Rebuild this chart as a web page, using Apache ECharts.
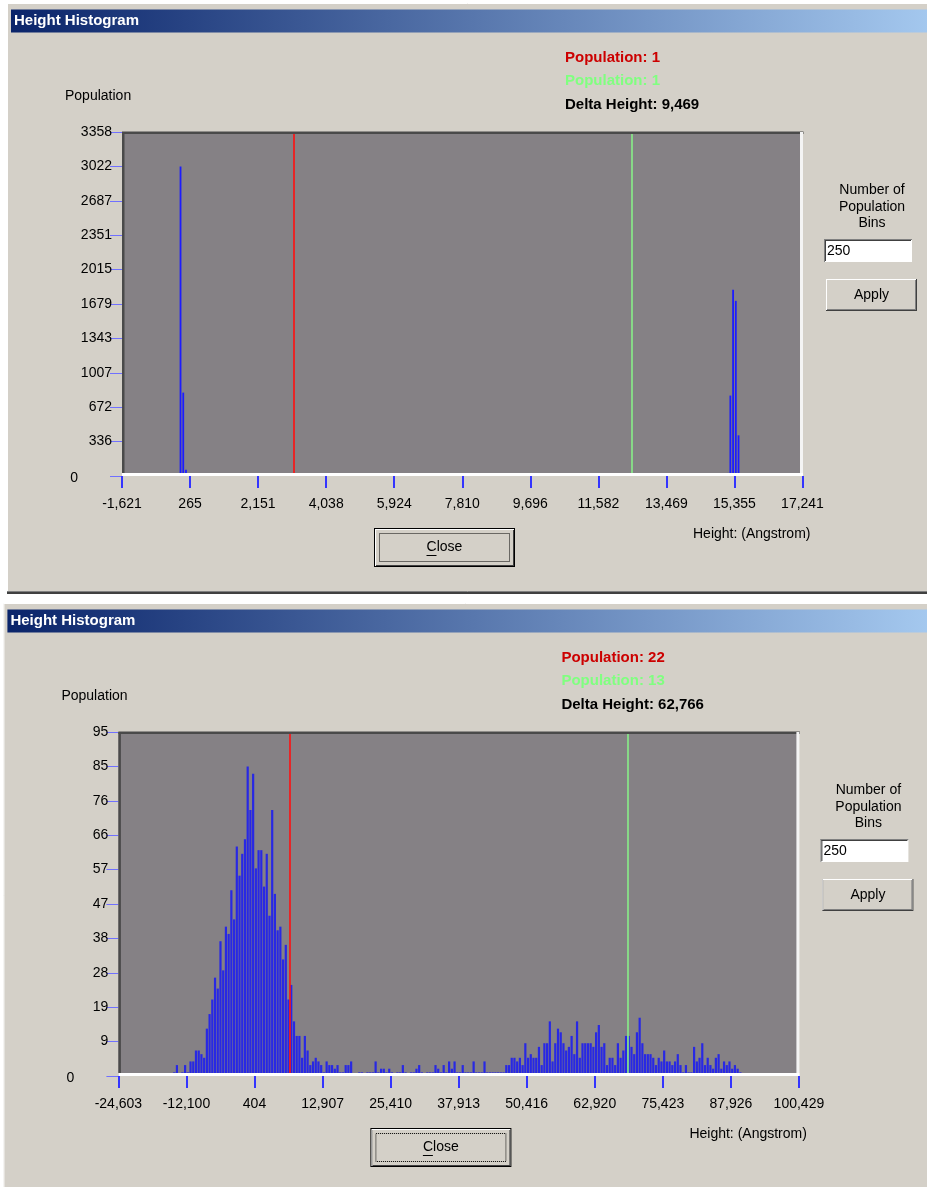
<!DOCTYPE html>
<html>
<head>
<meta charset="utf-8">
<script src="https://cdn.jsdelivr.net/npm/echarts@6/dist/echarts.min.js"></script>
<style>
html,body{margin:0;padding:0;background:#ffffff;}
#chart{width:927px;height:1187px;}
</style>
</head>
<body>
<div id="chart"></div>
<script>
// ---------------- data ----------------
const binCount = 250;

const topXTickLabels = ['-1,621','265','2,151','4,038','5,924','7,810','9,696','11,582','13,469','15,355','17,241'];
const topYTickLabels = ['0','336','672','1007','1343','1679','2015','2351','2687','3022','3358'];
const topYMax = 3358;
const topBins   = [21, 22, 23, 222, 223, 224, 225, 226];
const topCounts = [3022, 814, 60, 30, 785, 1819, 1710, 397];
const topRedMarker = 3146;
const topGreenMarker = 12515;
const topReadout = ['Population: 1', 'Population: 1', 'Delta Height: 9,469'];

const bottomXTickLabels = ['-24,603','-12,100','404','12,907','25,410','37,913','50,416','62,920','75,423','87,926','100,429'];
const bottomYTickLabels = ['0','9','19','28','38','47','57','66','76','85','95'];
const bottomYMax = 94.44;
const bottomFirstBin = 20;
const bottomCounts = [
  1,3,0,1,3,1,4,4,7,7, 6,5,13,17,21,27,24,37,29,41,
  39,51,43,63,55,61,65,85,73,83, 57,62,62,52,61,44,73,50,40,41,
  32,36,21,25,15,11,11,5,11,7, 3,4,5,4,3,1,4,3,3,2,
  3,1,1,3,3,4,
  0,0,1,1,0,1,1,1,4,1, 2,2,1,2,1,0,1,1,3,1,
  0,1,1,2,3,1,0,1,1,1, 3,2,1,3,1,4,2,4,1,1,
  3,1,1,1,4,1,1,1,
  4,1,1,1,1,1,1,1,3,3, 5,5,4,5,3,9,5,6,5,5,
  8,3,9,9,15,4,9,13,12,9, 7,8,11,6,15,5,9,9,9,9,
  8,12,14,8,9,3,5,5,3,9, 5,7,11,11,8,6,12,16,9,6,
  6,6,5,3,5,4,7,4,4,3, 4,6,3,1,3,1,1,8,4,5,
  9,3,5,3,2,5,6,2,4,3, 4,2,3,2,1
];
const bottomRedMarker = 6875;
const bottomGreenMarker = 68986;
const bottomReadout = ['Population: 22', 'Population: 13', 'Delta Height: 62,766'];

const yAxisTitle = 'Population';
const xAxisTitle = 'Height: (Angstrom)';
const binsLabel = ['Number of', 'Population', 'Bins'];
const binsValue = '250';
const windowTitle = 'Height Histogram';

// ---------------- helpers ----------------
const FONT = '"Liberation Sans", Arial, sans-serif';
const num = s => parseFloat(s.replace(/,/g, ''));

function binCenters(labels, bins) {
  const lo = num(labels[0]), hi = num(labels[labels.length - 1]);
  const w = (hi - lo) / binCount;
  return bins.map(b => lo + (b + 0.5) * w);
}

const topX = binCenters(topXTickLabels, topBins);
const topData = topX.map((x, i) => [x, topCounts[i]]);
const bottomBins = bottomCounts.map((c, i) => bottomFirstBin + i);
const bottomX = binCenters(bottomXTickLabels, bottomBins);
const bottomData = bottomX.map((x, i) => [x, bottomCounts[i]]).filter(d => d[1] > 0);

const PLOT_W = 680.5, PLOT_H = 344;
const panels = [
  {dx: 0, dy: 0, xl: topXTickLabels, yl: topYTickLabels, ymax: topYMax, data: topData,
   red: topRedMarker, green: topGreenMarker, readout: topReadout, barW: 1.8, barColor: '#1c1cff', frameH: 590},
  {dx: -3.6, dy: 600, xl: bottomXTickLabels, yl: bottomYTickLabels, ymax: bottomYMax, data: bottomData,
   red: bottomRedMarker, green: bottomGreenMarker, readout: bottomReadout, barW: 2.2, barColor: '#2828e4', frameH: 700}
];

function rect(x, y, w, h, fill, z) {
  return {type: 'rect', z: z, silent: true, shape: {x, y, width: w, height: h}, style: {fill}};
}
function line(x1, y1, x2, y2, stroke, w, z, dash) {
  return {type: 'line', z: z, silent: true, shape: {x1, y1, x2, y2},
          style: {stroke, lineWidth: w || 1, lineDash: dash || null}};
}
function text(x, y, t, opts) {
  opts = opts || {};
  return {type: 'text', z: opts.z || 20, silent: true,
          style: {x, y, text: t, fill: opts.fill || '#000000',
                  font: (opts.bold ? 'bold ' : '') + (opts.size || 14) + 'px ' + FONT,
                  textAlign: opts.align || 'left', textVerticalAlign: 'middle'}};
}

const graphics = [];
const grids = [], xAxes = [], yAxes = [], series = [];

panels.forEach((p, k) => {
  const dx = p.dx, dy = p.dy;
  // window frame
  graphics.push(rect(7 + dx, 3 + dy, 940, p.frameH, '#d4d0c8', 0));
  graphics.push(line(7 + dx, 3.5 + dy, 940, 3.5 + dy, '#ffffff', 1, 1));
  graphics.push(line(7.5 + dx, 3 + dy, 7.5 + dx, 3 + dy + p.frameH, '#ffffff', 1, 1));
  if (k === 0) {
    graphics.push(line(7, 591.5, 940, 591.5, '#808080', 1, 1));
    graphics.push(line(7, 593, 940, 593, '#404040', 2, 1));
  }
  // title bar
  graphics.push({type: 'rect', z: 1, silent: true,
    shape: {x: 11 + dx, y: 9.5 + dy, width: 930, height: 23},
    style: {fill: {type: 'linear', x: 0, y: 0, x2: 1, y2: 0,
      colorStops: [{offset: 0, color: '#0a246a'}, {offset: 1, color: '#a6caf0'}]}}});
  graphics.push(text(14 + dx, 21 + dy, windowTitle, {fill: '#ffffff', bold: true, size: 15}));

  // readouts
  graphics.push(text(565 + dx, 58 + dy, p.readout[0], {fill: '#cc0000', bold: true, size: 15}));
  graphics.push(text(565 + dx, 81 + dy, p.readout[1], {fill: '#80ff80', bold: true, size: 15}));
  graphics.push(text(565 + dx, 105 + dy, p.readout[2], {fill: '#000000', bold: true, size: 15}));

  // axis titles
  graphics.push(text(65 + dx, 96 + dy, yAxisTitle));
  graphics.push(text(693 + dx, 534 + dy, xAxisTitle));

  // plot borders (sunken)
  const L = 122 + dx, T = 132 + dy;
  graphics.push(rect(L, T - 0.5, PLOT_W + 1, 2.5, '#4a4a4a', 50));
  graphics.push(rect(L, T, 2.5, 341, '#4a4a4a', 50));
  graphics.push(rect(L + PLOT_W - 2.5, T, 3, 344, '#f4f4f4', 50));
  graphics.push(rect(L, T + 341, PLOT_W + 0.5, 3, '#ffffff', 50));

  // Close button
  const cx = 374 + dx, cy = 528 + dy;
  graphics.push(rect(cx, cy, 141, 39, '#000000', 5));
  graphics.push(rect(cx + 1, cy + 1, 139, 37, '#ffffff', 6));
  graphics.push(rect(cx + 2, cy + 2, 138, 36, '#404040', 6));
  graphics.push(rect(cx + 2, cy + 2, 137, 35, '#d4d0c8', 7));
  graphics.push({type: 'rect', z: 8, silent: true,
    shape: {x: cx + 5.5, y: cy + 5.5, width: 130, height: 28},
    style: {fill: null, stroke: '#000000', lineWidth: 1, lineDash: [1, 1]}});
  graphics.push(text(cx + 70.5, cy + 19.5, 'Close', {align: 'center'}));
  graphics.push(line(cx + 52.5, cy + 27.5, cx + 62.5, cy + 27.5, '#000000', 1, 21));

  // bins label + textbox + Apply
  graphics.push(text(872 + dx, 190 + dy, binsLabel[0], {align: 'center'}));
  graphics.push(text(872 + dx, 207 + dy, binsLabel[1], {align: 'center'}));
  graphics.push(text(872 + dx, 223 + dy, binsLabel[2], {align: 'center'}));
  const bx = 824 + dx, by = 239 + dy;
  graphics.push(rect(bx, by, 88, 23, '#ffffff', 5));
  graphics.push(line(bx, by + 0.5, bx + 88, by + 0.5, '#808080', 1, 6));
  graphics.push(line(bx + 0.5, by, bx + 0.5, by + 23, '#808080', 1, 6));
  graphics.push(line(bx + 1, by + 1.5, bx + 87, by + 1.5, '#404040', 1, 6));
  graphics.push(line(bx + 1.5, by + 1, bx + 1.5, by + 22, '#404040', 1, 6));
  graphics.push(text(bx + 3, by + 12, binsValue));
  const ax = 826 + dx, ay = 279 + dy;
  graphics.push(rect(ax, ay, 91, 32, '#404040', 5));
  graphics.push(rect(ax, ay, 90, 31, '#ffffff', 6));
  graphics.push(rect(ax + 1, ay + 1, 89, 30, '#808080', 6));
  graphics.push(rect(ax + 1, ay + 1, 88, 29, '#d4d0c8', 7));
  graphics.push(text(ax + 45.5, ay + 16, 'Apply', {align: 'center'}));

  // chart grid / axes
  const lo = num(p.xl[0]), hi = num(p.xl[p.xl.length - 1]);
  const ticks = p.xl.map(num);
  grids.push({left: L, top: T, width: PLOT_W, height: PLOT_H, show: true, z: 2,
              backgroundColor: '#858185', borderWidth: 0, containLabel: false});
  xAxes.push({type: 'value', gridIndex: k, min: lo, max: hi, z: 3, position: 'bottom',
    axisLine: {show: false, onZero: false}, splitLine: {show: false},
    axisTick: {show: true, length: 12, customValues: ticks, lineStyle: {color: '#3434ff', width: 2}},
    axisLabel: {show: true, customValues: ticks, margin: 21, color: '#000000', fontSize: 14,
      fontFamily: FONT, formatter: v => {
        let best = 0, bd = Infinity;
        ticks.forEach((t, i) => { const d = Math.abs(t - v); if (d < bd) { bd = d; best = i; } });
        return p.xl[best];
      }}});
  const yl = p.yl;
  yAxes.push({type: 'value', gridIndex: k, min: 0, max: p.ymax, interval: p.ymax / 10, z: 3, position: 'left',
    axisLine: {show: false, onZero: false}, splitLine: {show: false},
    axisTick: {show: true, length: 12, lineStyle: {color: '#7070ff', width: 1}},
    axisLabel: {show: true, margin: 10, color: '#000000', fontSize: 14, fontFamily: FONT,
      showMinLabel: true, showMaxLabel: true,
      formatter: (v, i) => {
        const idx = Math.round(v / (p.ymax / 10));
        return idx === 0 ? '{z|' + yl[0] + '}' : yl[idx];
      },
      rich: {z: {fontSize: 14, fontFamily: FONT, color: '#000000', padding: [4, 34, 0, 0]}}}});
  series.push({type: 'bar', xAxisIndex: k, yAxisIndex: k, data: p.data, barWidth: p.barW,
    itemStyle: {color: p.barColor}, silent: true, z: 4,
    markLine: {silent: true, symbol: 'none', animation: false, label: {show: false},
      data: [
        {xAxis: p.red, lineStyle: {color: '#ff1010', width: 1.6, type: 'solid'}},
        {xAxis: p.green, lineStyle: {color: '#88ee88', width: 1.6, type: 'solid'}}
      ]}});
});

const chart = echarts.init(document.getElementById('chart'), null, {renderer: 'canvas'});
chart.setOption({
  animation: false,
  backgroundColor: '#ffffff',
  grid: grids, xAxis: xAxes, yAxis: yAxes, series: series,
  graphic: {elements: graphics}
});
</script>
</body>
</html>
